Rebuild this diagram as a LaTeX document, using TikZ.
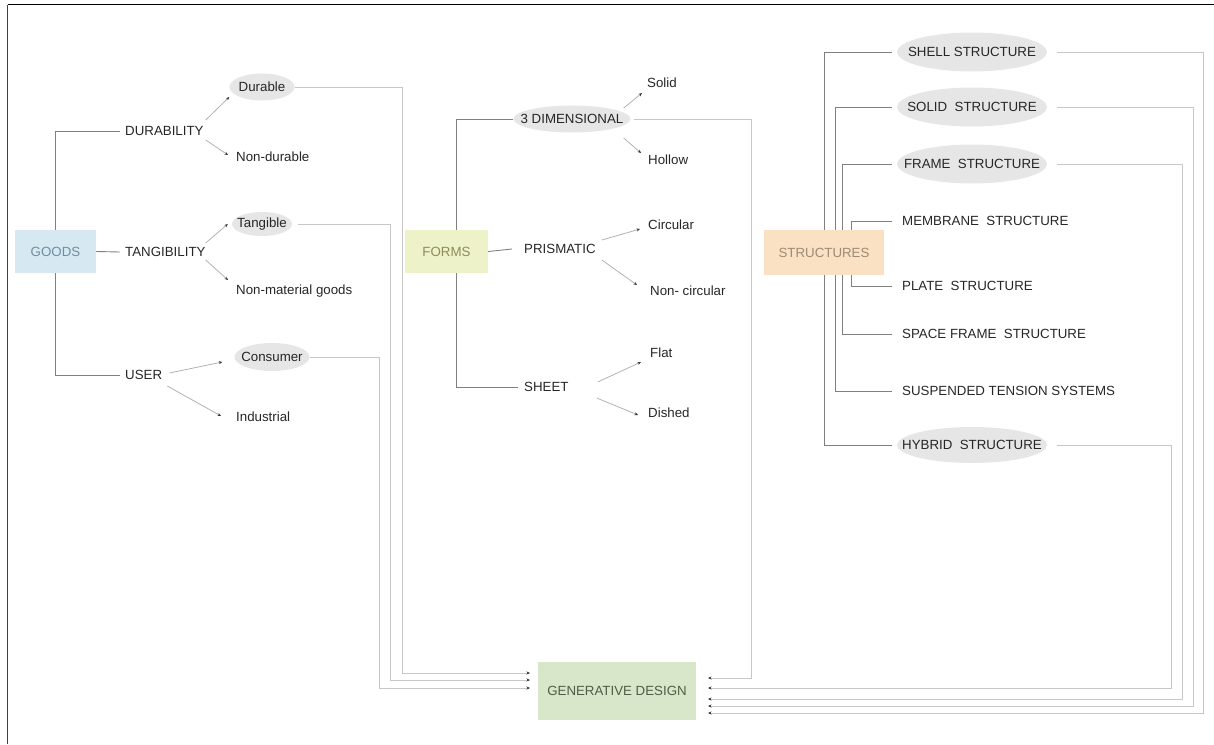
\documentclass[tikz,border=0pt]{standalone}
\usepackage{fontspec}
\setmainfont{Liberation Sans}
\usetikzlibrary{shapes.geometric,arrows.meta,backgrounds,calc}
\definecolor{goodsblue}{HTML}{D6E9F2}
\definecolor{goodsink}{HTML}{6F8E9C}
\definecolor{formsyellow}{HTML}{EEF2C8}
\definecolor{formsink}{HTML}{8C8C5A}
\definecolor{structpeach}{HTML}{FBE1C3}
\definecolor{structink}{HTML}{9C8B73}
\definecolor{gengreen}{HTML}{D8E6CA}
\definecolor{genink}{HTML}{4F5D45}
\definecolor{ovalgray}{HTML}{E6E6E6}
\definecolor{inkgray}{HTML}{262626}
\newcommand{\labelfont}{\fontsize{13.3}{16}\selectfont}
\newcommand{\ovaltext}[1]{\makebox[0pt]{#1}}
\tikzstyle{hub} = [rectangle,inner sep=0pt,font=\labelfont]
\tikzstyle{lbl} = [anchor=west,inner sep=2pt,text=inkgray,font=\labelfont]
\tikzstyle{oval} = [ellipse,fill=ovalgray,inner sep=0pt,text=inkgray,font=\labelfont]
\tikzstyle{bracket} = [draw,black!50,line width=0.9pt]
\tikzstyle{feed} = [draw,black!22,line width=1pt,-{Stealth[length=3.5pt,width=3pt,color=black!80]}]
\tikzstyle{arr} = [draw,black!30,line width=0.8pt,-{Stealth[length=3.5pt,width=3pt,color=black!80]}]

\begin{document}
\begin{tikzpicture}[x=1pt,y=-1pt]
   \useasboundingbox (0,0) rectangle (1214,744);
   \draw[black,line width=1.3pt] (1214,4.5) -- (7.5,4.5);
   \draw[black!75,line width=1.6pt] (7.5,4.5) -- (7.5,744);

   \node[hub,fill=goodsblue,text=goodsink,minimum width=81pt,minimum height=43pt] (goods) at (55.5,251.5) {GOODS};
   \node[lbl] (durability) at (123,131) {DURABILITY};
   \node[lbl] (tangibility) at (123,252) {TANGIBILITY};
   \node[lbl] (user) at (123,375) {USER};
   \node[oval,minimum width=65pt,minimum height=27pt] (durable) at (262,87) {\ovaltext{Durable}};
   \node[lbl] (nondurable) at (234,157) {Non-durable};
   \node[oval,minimum width=60pt,minimum height=24pt] (tangible) at (262,224) {\ovaltext{Tangible}};
   \node[lbl] (nonmaterial) at (234,291) {Non-material goods};
   \node[oval,minimum width=75pt,minimum height=28pt] (consumer) at (272,357) {\ovaltext{Consumer}};
   \node[lbl] (industrial) at (234,417) {Industrial};

   \node[hub,fill=formsyellow,text=formsink,minimum width=83pt,minimum height=43pt] (forms) at (446.5,251.5) {FORMS};
   \node[oval,minimum width=117pt,minimum height=27pt] (threed) at (572,119) {\ovaltext{3 DIMENSIONAL}};
   \node[lbl] (prismatic) at (522,249) {PRISMATIC};
   \node[lbl] (sheet) at (522,387) {SHEET};
   \node[lbl] (solid) at (645,83) {Solid};
   \node[lbl] (hollow) at (646,160) {Hollow};
   \node[lbl] (circular) at (646,225) {Circular};
   \node[lbl] (noncircular) at (648,291) {Non- circular};
   \node[lbl] (flat) at (648,353) {Flat};
   \node[lbl] (dished) at (646,413) {Dished};

   \node[hub,fill=structpeach,text=structink,minimum width=120pt,minimum height=45pt] (structures) at (824,252.5) {STRUCTURES};
   \node[oval,minimum width=150pt,minimum height=39pt] (shell) at (972,52) {\ovaltext{SHELL STRUCTURE}};
   \node[oval,minimum width=150pt,minimum height=39pt] (solidst) at (972,107) {\ovaltext{SOLID~ STRUCTURE}};
   \node[oval,minimum width=150pt,minimum height=39pt] (frame) at (972,164) {\ovaltext{FRAME~ STRUCTURE}};
   \node[lbl] (membrane) at (900,221) {MEMBRANE~ STRUCTURE};
   \node[lbl] (plate) at (900,286) {PLATE~ STRUCTURE};
   \node[lbl] (spaceframe) at (900,334) {SPACE FRAME~ STRUCTURE};
   \node[lbl] (suspended) at (900,391) {SUSPENDED TENSION SYSTEMS};
   \node[oval,minimum width=150pt,minimum height=36pt] (hybrid) at (972,445) {\ovaltext{HYBRID~ STRUCTURE}};

   \node[hub,fill=gengreen,text=genink,minimum width=158pt,minimum height=58pt] (gen) at (617,691) {GENERATIVE DESIGN};

   \coordinate (gb) at (55,0);
   \coordinate (fb) at (456,0);
   \coordinate (sb1) at (824,0);
   \coordinate (sb2) at (835,0);
   \coordinate (sb3) at (842,0);
   \coordinate (sb4) at (851,0);
   \begin{scope}[on background layer]
   \path[bracket] ([xshift=-3pt]durability.west) -| (gb |- user.west) -- ([xshift=-3pt]user.west);
   \path[bracket] (goods.east) -- ([xshift=-3pt]tangibility.west);
   \path[bracket] (threed.west) -| (fb |- sheet.west) -- ([xshift=-4pt]sheet.west);
   \path[bracket] (forms.east) -- ([xshift=-10pt]prismatic.west);
   \path[bracket] ([xshift=-5pt]shell.west) -| (sb1 |- hybrid.west) -- ([xshift=-5pt]hybrid.west);
   \path[bracket] ([xshift=-5pt]solidst.west) -| (sb2 |- suspended.west) -- ([xshift=-8pt]suspended.west);
   \path[bracket] ([xshift=-5pt]frame.west) -| (sb3 |- spaceframe.west) -- ([xshift=-8pt]spaceframe.west);
   \path[bracket] ([xshift=-8pt]membrane.west) -| (sb4 |- plate.west) -- ([xshift=-8pt]plate.west);
   \end{scope}

   \path[arr] ($(durability.east)+(0,-11)$) -- ($(durable.west)+(0,10)$);
   \path[arr] ($(durability.east)+(0,9)$) -- ($(nondurable.west)+(-6,-2)$);
   \path[arr] ($(tangibility.east)+(-2,-9)$) -- ($(tangible.west)+(-4,0)$);
   \path[arr] ($(tangibility.east)+(-2,8)$) -- ($(nonmaterial.west)+(-6,-11)$);
   \path[arr] ($(user.east)+(5,-2)$) -- ($(consumer.west)+(-12,5)$);
   \path[arr] ($(user.east)+(3,11)$) -- ($(industrial.west)+(-13,-1)$);
   \path[arr] ($(threed.east)+(-7,-11)$) -- ($(solid.west)+(-3,10)$);
   \path[arr] ($(threed.east)+(-7,19)$) -- ($(hollow.west)+(-5,-7)$);
   \path[arr] ($(prismatic.east)+(4,-9)$) -- ($(circular.west)+(-6,4)$);
   \path[arr] ($(prismatic.east)+(4,11)$) -- ($(noncircular.west)+(-11,-6)$);
   \path[arr] ($(sheet.east)+(27,-5)$) -- ($(flat.west)+(-7,9)$);
   \path[arr] ($(sheet.east)+(26,11)$) -- ($(dished.west)+(-8,2)$);

   \coordinate (gl1) at (530,673);
   \coordinate (gl2) at (530,680);
   \coordinate (gl3) at (530,688);
   \coordinate (gr1) at (708,678);
   \coordinate (gr2) at (708,688);
   \coordinate (gr3) at (708,699);
   \coordinate (gr4) at (708,706);
   \coordinate (gr5) at (708,713);
   \coordinate (dd) at (402,0);
   \coordinate (dt) at (390,0);
   \coordinate (dc) at (379,0);
   \coordinate (d3) at (751,0);
   \coordinate (dh) at (1171,0);
   \coordinate (df) at (1182,0);
   \coordinate (ds) at (1193,0);
   \coordinate (dsh) at (1203,0);

   \path[feed] (durable.east) -| (dd |- gl1) -- (gl1);
   \path[feed] ([xshift=6pt]tangible.east) -| (dt |- gl2) -- (gl2);
   \path[feed] (consumer.east) -| (dc |- gl3) -- (gl3);
   \path[feed] ([xshift=3pt]threed.east) -| (d3 |- gr1) -- (gr1);
   \foreach \src/\drop/\dest in {hybrid/dh/gr2,frame/df/gr3,solidst/ds/gr4,shell/dsh/gr5}
      \path[feed] ([xshift=10pt]\src.east) -| (\drop |- \dest) -- (\dest);
\end{tikzpicture}
\end{document}
